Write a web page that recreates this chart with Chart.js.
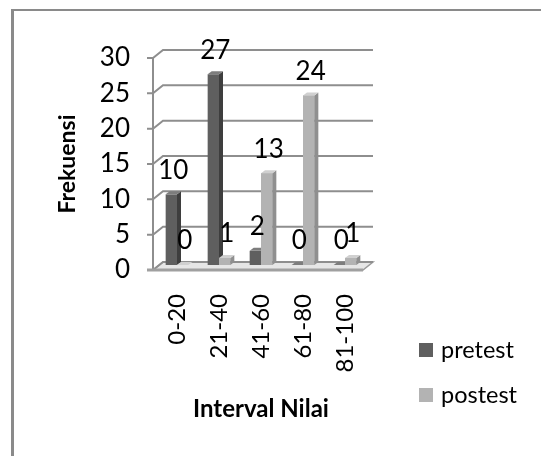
<!DOCTYPE html>
<html>
<head>
<meta charset="utf-8">
<script src="https://cdn.jsdelivr.net/npm/chart.js@4"></script>
<style>
  html, body { margin: 0; padding: 0; background: #fff; overflow: hidden; }
  #wrap { position: relative; width: 541px; height: 456px; }
  #frame { position: absolute; left: 11px; top: 9px; width: 600px; height: 500px;
           border-left: 3px solid #8a8a8a; border-top: 2px solid #8a8a8a; }
  canvas { position: absolute; left: 0; top: 0; }
</style>
</head>
<body>
<div id="wrap">
  <div id="frame"></div>
  <canvas id="chart" width="541" height="456"></canvas>
</div>
<script>
// ---- data ----
const categories = ["0-20", "21-40", "41-60", "61-80", "81-100"];
const pretest = [10, 27, 2, 0, 0];
const postest = [0, 1, 13, 24, 1];
const seriesNames = ["pretest", "postest"];

// ---- style ----
const FONT = "Lato";
const front = ["#5f5f5f", "#b3b3b3"];
const sides = ["#3e3e3e", "#8f8f8f"];
const tops = ["#7d7d7d", "#d0d0d0"];
const wall = { dx: 10, dy: -8 };   // back wall depth
const barOff = { dx: 0, dy: -5 };  // bars sit half way into the depth
const face = { dx: 4, dy: -3 };    // bar side / top thickness

// --- fake 3D: back wall, floor, bar faces, value labels ---
const threeD = {
  id: "threeD",
  beforeDatasetsDraw(chart) {
    const { ctx, chartArea: a, scales: { y } } = chart;
    const ax = a.left - 3;
    const backRight = a.right + wall.dx - 3;
    const y0 = y.getPixelForValue(0);

    ctx.save();
    // floor
    ctx.beginPath();
    ctx.moveTo(ax, y0);
    ctx.lineTo(a.right - 3, y0);
    ctx.lineTo(backRight, y0 + wall.dy);
    ctx.lineTo(ax + wall.dx, y0 + wall.dy);
    ctx.closePath();
    ctx.fillStyle = "#e6e6e6";
    ctx.fill();
    ctx.strokeStyle = "#9a9a9a";
    ctx.lineWidth = 1.5;
    ctx.stroke();

    // gridlines on the back wall with their slanted connectors
    ctx.beginPath();
    y.ticks.forEach(t => {
      const py = y.getPixelForValue(t.value);
      ctx.moveTo(ax - 6, py);
      ctx.lineTo(ax, py);
      ctx.lineTo(ax + wall.dx, py + wall.dy);
      ctx.lineTo(backRight, py + wall.dy);
    });
    ctx.moveTo(ax, y.getPixelForValue(y.max));
    ctx.lineTo(ax, y0);
    ctx.strokeStyle = "#8e8e8e";
    ctx.lineWidth = 2;
    ctx.stroke();

    // thick front edge of the floor
    ctx.beginPath();
    ctx.moveTo(ax - 6, y0);
    ctx.lineTo(a.right - 3, y0);
    ctx.lineWidth = 3;
    ctx.strokeStyle = "#a0a0a0";
    ctx.stroke();
    ctx.restore();

    ctx.save();
    ctx.translate(barOff.dx, barOff.dy);
  },
  afterDatasetsDraw(chart) {
    const { ctx } = chart;
    chart.data.datasets.forEach((ds, i) => {
      chart.getDatasetMeta(i).data.forEach(el => {
        const { x, y, base, width } = el.getProps(["x", "y", "base", "width"], true);
        const l = x - width / 2, r = x + width / 2;
        if (i > 0) {
          ctx.fillStyle = front[i];
          ctx.fillRect(l, y, width, base - y);
        }
        // side
        ctx.beginPath();
        ctx.moveTo(r, y);
        ctx.lineTo(r + face.dx, y + face.dy);
        ctx.lineTo(r + face.dx, base + face.dy);
        ctx.lineTo(r, base);
        ctx.closePath();
        ctx.fillStyle = sides[i];
        ctx.fill();
        // top
        ctx.beginPath();
        ctx.moveTo(l, y);
        ctx.lineTo(r, y);
        ctx.lineTo(r + face.dx, y + face.dy);
        ctx.lineTo(l + face.dx, y + face.dy);
        ctx.closePath();
        ctx.fillStyle = tops[i];
        ctx.fill();
      });
    });
    ctx.restore();

    // value labels
    ctx.save();
    ctx.font = `26px ${FONT}`;
    ctx.fillStyle = "#000";
    ctx.textAlign = "center";
    ctx.textBaseline = "middle";
    chart.data.datasets.forEach((ds, i) => {
      chart.getDatasetMeta(i).data.forEach((el, j) => {
        ctx.fillText(String(ds.data[j]), el.x + 2 + barOff.dx, el.y + barOff.dy - 24);
      });
    });
    ctx.restore();
  },
  afterDraw(chart) {
    // legend
    const { ctx } = chart;
    ctx.save();
    ctx.font = `23.5px ${FONT}`;
    ctx.textBaseline = "middle";
    chart.data.datasets.forEach((ds, i) => {
      const cy = 350 + i * 45;
      ctx.fillStyle = front[i];
      ctx.fillRect(419, cy - 7, 14, 14);
      ctx.fillStyle = "#000";
      ctx.fillText(ds.label, 441, cy);
    });
    ctx.restore();
  }
};

new Chart(document.getElementById("chart"), {
  type: "bar",
  data: {
    labels: categories,
    datasets: [
      { label: seriesNames[0], data: pretest, backgroundColor: front[0] },
      { label: seriesNames[1], data: postest, backgroundColor: front[1] }
    ]
  },
  options: {
    responsive: false,
    animation: false,
    categoryPercentage: 0.54,
    barPercentage: 1,
    layout: { padding: { left: 54, top: 58, right: 175, bottom: 32 } },
    plugins: { legend: { display: false }, tooltip: { enabled: false } },
    scales: {
      x: {
        grid: { display: false, drawTicks: false },
        border: { display: false },
        ticks: { minRotation: 90, maxRotation: 90, padding: 24, color: "#000",
                 font: { family: FONT, size: 24 } },
        title: { display: true, text: "Interval Nilai", color: "#000", padding: 0,
                 font: { family: FONT, size: 24, weight: "bold" } },
        afterFit(s) { s.height = 154; }
      },
      y: {
        min: 0, max: 30,
        grid: { display: false, drawTicks: false },
        border: { display: false },
        ticks: { stepSize: 5, padding: 26, color: "#000",
                 font: { family: FONT, size: 26 } },
        title: { display: true, text: "Frekuensi", color: "#000", padding: 0,
                 font: { family: FONT, size: 23, weight: "bold" } },
        afterFit(s) { s.width = 102; }
      }
    }
  },
  plugins: [threeD]
});
</script>
</body>
</html>
